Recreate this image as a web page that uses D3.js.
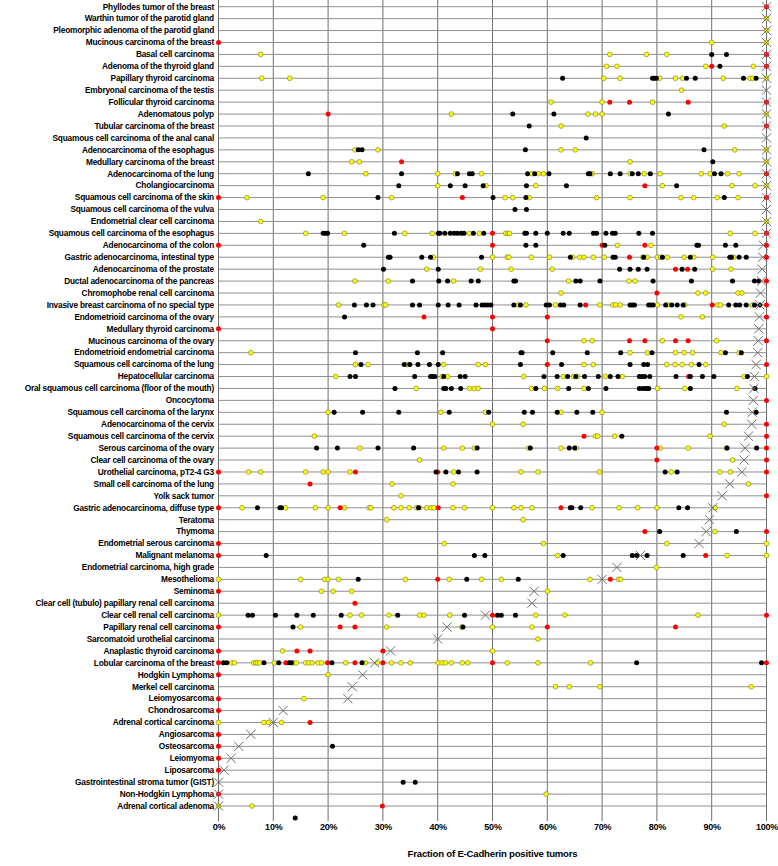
<!DOCTYPE html>
<html><head><meta charset="utf-8">
<script src="https://cdn.jsdelivr.net/npm/d3@7"></script>
<style>body{margin:0;background:#fff}svg{display:block}</style>
</head><body><svg id="c" width="778" height="866"></svg>
<script>
const categories = ["Phyllodes tumor of the breast","Warthin tumor of the parotid gland","Pleomorphic adenoma of the parotid gland","Mucinous carcinoma of the breast","Basal cell carcinoma","Adenoma of the thyroid gland","Papillary thyroid carcinoma","Embryonal carcinoma of the testis","Follicular thyroid carcinoma","Adenomatous polyp","Tubular carcinoma of the breast","Squamous cell carcinoma of the anal canal","Adenocarcinoma of the esophagus","Medullary carcinoma of the breast","Adenocarcinoma of the lung","Cholangiocarcinoma","Squamous cell carcinoma of the skin","Squamous cell carcinoma of the vulva","Endometrial clear cell carcinoma","Squamous cell carcinoma of the esophagus","Adenocarcinoma of the colon","Gastric adenocarcinoma, intestinal type","Adenocarcinoma of the prostate","Ductal adenocarcinoma of the pancreas","Chromophobe renal cell carcinoma","Invasive breast carcinoma of no special type","Endometrioid carcinoma of the ovary","Medullary thyroid carcinoma","Mucinous carcinoma of the ovary","Endometrioid endometrial carcinoma","Squamous cell carcinoma of the lung","Hepatocellular carcinoma","Oral squamous cell carcinoma (floor of the mouth)","Oncocytoma","Squamous cell carcinoma of the larynx","Adenocarcinoma of the cervix","Squamous cell carcinoma of the cervix","Serous carcinoma of the ovary","Clear cell carcinoma of the ovary","Urothelial carcinoma, pT2-4 G3","Small cell carcinoma of the lung","Yolk sack tumor","Gastric adenocarcinoma, diffuse type","Teratoma","Thymoma","Endometrial serous carcinoma","Malignant melanoma","Endometrial carcinoma, high grade","Mesothelioma","Seminoma","Clear cell (tubulo) papillary renal cell carcinoma","Clear cell renal cell carcinoma","Papillary renal cell carcinoma","Sarcomatoid urothelial carcinoma","Anaplastic thyroid carcinoma","Lobular carcinoma of the breast","Hodgkin Lymphoma","Merkel cell carcinoma","Leiomyosarcoma","Chondrosarcoma","Adrenal cortical carcinoma","Angiosarcoma","Osteosarcoma","Leiomyoma","Liposarcoma","Gastrointestinal stroma tumor (GIST)","Non-Hodgkin Lymphoma","Adrenal cortical adenoma",""];

const studyFraction = [100,100,100,100,100,100,100,100,100,100,100,100,100,100,100,100,100,100,100,100,
99.4,99.3,99.2,99.1,98.9,98.8,98.7,98.6,98.5,98.4,98.1,97.8,97.7,97.6,97.4,97.3,96.7,96.1,95.9,95.5,
93.3,91.9,90.2,89.6,89.0,87.7,77.0,72.7,70.0,57.6,57.2,48.7,41.7,40.0,31.4,28.5,26.3,24.4,23.6,11.8,
10.0,5.9,3.7,2.3,1.0,0,0,0,null];

const yellowDots = [
[],[100],[100],[90,100],[7.7,71.4,78.1,81.8],[70.8,72.7,88.9,97.6],
[7.9,13.0,70.3,73.3,80.5,83.4,84.7,92.1,97.0,97.5,100],[84.5],[60.7,70.0,79.2],[42.5,67.4,68.8,70.0,100],[62.5,92.3],[],
[24.9,29.1,62.5,65.1,94.2,100],[24.3,25.7,75.1,100],
[26.9,40.0,43.2,48.0,57.2,58.4,59.3,68.2,75.1,77.7,80.6,88.1,89.7,92.9,95.0],
[40.0,48.8,57.9,81.0,93.7,97.9,100],
[5.2,19.1,31.6,52.3,53.7,56.7,69.0,75.1,84.4,86.7,91.0,94.8],
[],[7.7,100],
[15.9,23.0,34.0,39.0,45.8,47.6,52.4,52.8,53.1,93.4,97.9],
[72.8,78.9],
[39.2,50.0,52.7,53.0,57.1,60.4,64.6,65.9,66.7,68.4,70.4,77.4,78.2,80.1,80.7,81.9,85.0,86.7,90.2,94.0],
[38.0,47.8,53.4,60.9,90.2,93.5],
[24.9,31.0,42.9,63.9,74.9,76.0],
[62.5,87.5,88.9,94.8,95.5],
[21.9,30.2,30.5,54.7,56.1,60.0,61.5,69.6,72.0,72.5,73.3,80.1,82.0,85.1,91.1,91.6,97.4],
[84.4,88.3],[],[66.7,68.2,81.0,90.9],
[5.9,75.1,78.3,83.4,85.0,86.5,91.7,95.0],
[25.0,27.3,34.4,41.1,47.4,48.7,66.7,68.4,81.8,83.3,84.6,86.3,88.9],
[21.4,40.8,41.8,55.7,62.9,64.8,65.5,70.6,73.7,95.9,100],
[36.1,45.8,46.7,47.4,57.1,59.5,61.9,66.7,80.1,85.1,94.6],
[],[20.0,40.6,48.7,62.5,70.0],[50.0,55.6,92.3],[17.5,68.8,69.2,72.3,89.7],
[25.8,41.1,44.5,46.7,56.6,62.5,65.3,80.6,85.7,92.7],
[36.7,93.8],
[5.5,7.7,15.9,19.1,20.0,24.0,42.9,55.2,58.3,69.5,82.6,91.5,93.4],
[31.7,42.8,96.7],[33.3],
[4.3,12.2,17.7,20.0,23.0,27.5,27.8,32.0,33.3,34.8,36.2,36.7,38.0,38.8,39.3,42.8,44.9,50.0,53.9,55.2,57.2,68.2,73.1,76.5,80.0,90.6],
[30.7,55.6],[90.6],[41.2,59.3,81.8,100],[61.9,92.8,100],[79.9],
[0,15.0,19.4,20.0,21.9,34.1,42.1,48.0,51.6,67.8,73.0,73.4],
[18.8,20.9,24.3,60.0],[],
[0,24.0,26.1,31.1,36.7,37.5,42.2,57.9,63.2,87.5],
[15.0,30.7,44.4,50.0,57.2],[58.3],[11.7,50.0],
[2.4,2.9,6.4,6.8,7.1,7.5,10.2,13.6,14.2,15.9,16.5,17.1,18.2,18.8,23.2,26.8,29.0,31.6,33.3,35.0,40.1,40.8,41.4,42.5,44.5,45.5,52.7,58.3,67.9],
[20.0],[61.5,64.0,69.6,97.2],[15.6],[],[0,8.3,9.1,11.5],[],[],[],[],[],[59.8],[0,6.1],[]
];

const redDots = [
[100],[],[],[0],[100],[90.0,100],[],[],[71.4,75.0,85.7,100],[20.0],[100],[],[],[33.4],[100],[77.8],[0,44.5,100],[],[],[50.0,100],
[0,50.0,70.0,77.8,100],[75.0,100],[83.4,85.6],[100],[80.0],[67.0,90.1,100],[37.5,50.0,60.0,100],[0,50.0],[60.0,75.0,77.8,83.4,85.7,100],[],
[60.0,100],[85.8],[],[100],[],[100],[66.7,100],[80.0,100],[80.0,100],[0,25.0,40.0,100],
[16.7],[100],[0,22.2,40.1,62.5],[],[77.8,100],[0],[0,88.9],[],[40.0,71.5],[0],
[24.9],[50.0,100],[0,22.2,24.9,60.0,83.4],[],[0,14.3,16.7,30.0],[0,12.3,19.9,24.9,30.0,50.0,100],[0],[],[0],[0],
[16.7],[0],[0],[0],[0],[],[0],[29.9],[]
];

const blackDots = [
[],[],[],[],[90.0,92.7],[91.5],[62.8,79.2,79.5,79.9,85.4,87.0,95.8,98.1],[],[],[53.7,61.2,82.1],[56.7],[67.1],
[25.5,26.2,56.0,88.6],[90.2],
[16.4,33.4,43.6,45.8,46.3,56.4,57.7,60.3,67.5,67.8,71.5,73.3,75.5,76.6,78.8,90.5,91.7],
[32.9,42.3,45.0,48.3,56.2,63.5,83.6],
[29.1,50.1,56.1,92.3],[54.1,56.2],[],
[19.1,19.5,19.9,32.1,40.1,40.4,41.3,42.3,43.0,43.6,44.3,44.8,46.5,48.4,55.9,56.2,57.9,60.0,62.9,64.0,68.4,69.0,70.7,71.9,72.4,76.7,79.2],
[26.5,56.1,57.9,70.5,87.3,87.6,92.5,94.4],
[31.0,31.3,37.1,38.7,48.0,64.2,72.0,72.4,77.6,81.0,86.1,93.3,93.6,95.0,96.3],
[30.1,40.1,73.2,75.1,76.6,78.2,84.6,86.9],
[35.4,40.2,41.8,46.1,47.4,53.9,54.2,65.2,66.0,69.6,79.3,86.3,93.8,97.8,98.6],
[],
[24.8,27.0,28.2,35.4,36.7,40.1,41.9,43.9,47.0,48.1,48.6,49.1,49.7,53.9,55.1,59.8,60.4,62.4,63.0,66.0,75.1,75.5,75.9,78.5,78.9,79.3,81.6,82.7,83.7,84.8,93.1,94.4,95.1,96.3,97.8,98.8],
[23.0],[],[],
[25.0,36.3,40.9,55.2,55.4,61.0,67.3,73.4,79.1,92.5,95.4],
[26.0,33.9,34.9,36.4,38.5,40.1,55.1,62.6,75.1,77.6,78.3,87.7],
[24.0,25.0,35.8,38.7,39.1,39.5,41.1,44.1,45.0,59.4,61.8,63.7,65.2,66.8,69.3,71.5,72.9,76.8,77.3,77.8,78.7,83.5,86.1,88.3,90.4,96.5],
[32.2,41.1,41.5,42.5,44.2,57.9,63.9,67.5,70.7,76.8,77.4,77.9,78.3,78.5,86.1,97.9],
[],
[21.1,26.3,32.9,42.1,49.3,55.8,57.3,61.8,65.4,68.3,92.7,98.1],
[],[73.6],
[17.9,21.7,29.1,35.6,47.2,56.9,64.0,65.0,92.8,98.2],
[],
[39.7,41.5,43.8,47.2,81.5,83.7],
[],[],
[7.1,11.2,11.5,36.5,64.2,64.5,66.1,84.0,85.6],
[],[80.5,94.5],[],
[8.7,46.7,48.6,62.9,75.5,76.3,78.2,84.8],
[],[25.5,45.3,54.7],[],[],
[5.4,6.2,10.4,14.3,17.3,22.4,32.7,44.9,50.9,51.6,54.2],
[13.6,44.6],[],[],
[0.9,1.5,8.3,11.0,12.9,13.3,20.7,26.2,76.3,99.1],
[],[],[],[],[],[],[20.8],[],[],[33.7,35.9],[],[],[14.0]
];

const tickValues = [0,10,20,30,40,50,60,70,80,90,100];
const axisTitle = "Fraction of E-Cadherin positive tumors";

const FONT = "'Liberation Sans','Arial',sans-serif";
const svg = d3.select("#c");
const x = d3.scaleLinear().domain([0,100]).range([218.5,766.5]);
const y = d3.scalePoint().domain(d3.range(categories.length)).range([6.7, 6.7 + 11.93*(categories.length-1)]);
const nRowsLined = categories.length - 1;

// vertical gridlines
svg.append("g").selectAll("line").data(tickValues).join("line")
  .attr("x1", d=>x(d)).attr("x2", d=>x(d)).attr("y1", 0).attr("y2", 821)
  .attr("stroke", "#6e6e6e").attr("stroke-width", 1);

// horizontal row lines
svg.append("g").selectAll("line").data(d3.range(nRowsLined)).join("line")
  .attr("x1", x(0)).attr("x2", x(100)).attr("y1", d=>y(d)).attr("y2", d=>y(d))
  .attr("stroke", "#8f8f8f").attr("stroke-width", 1);

// category labels
svg.append("g").selectAll("text").data(categories).join("text")
  .attr("x", 214).attr("y", (d,i)=>y(i)).attr("dy", "0.34em")
  .attr("text-anchor", "end")
  .style("font-family", FONT).style("letter-spacing", "-0.2px")
  .style("font-weight", "bold").style("font-size", "8.3px").attr("fill", "#000")
  .text(d=>d);

function flat(arr){ const out=[]; arr.forEach((vals,i)=>vals.forEach(v=>out.push({i,v}))); return out; }

const dots = svg.append("g");
dots.selectAll("circle.y").data(flat(yellowDots)).join("circle").attr("class","y")
  .attr("cx", d=>x(d.v)).attr("cy", d=>y(d.i)).attr("r", 2.4)
  .attr("fill", "#ffff00").attr("stroke", "#77772e").attr("stroke-width", 0.6);
dots.selectAll("circle.r").data(flat(redDots)).join("circle").attr("class","r")
  .attr("cx", d=>x(d.v)).attr("cy", d=>y(d.i)).attr("r", 2.5)
  .attr("fill", "#ff0000");
dots.selectAll("circle.b").data(flat(blackDots)).join("circle").attr("class","b")
  .attr("cx", d=>x(d.v)).attr("cy", d=>y(d.i)).attr("r", 2.5)
  .attr("fill", "#000");

// study fraction X markers
const xs = studyFraction.map((v,i)=>({i,v})).filter(d=>d.v!==null);
const s = 4.6;
svg.append("g").selectAll("path").data(xs).join("path")
  .attr("d", d=>{const cx=x(d.v), cy=y(d.i); return `M${cx-s},${cy-s}L${cx+s},${cy+s}M${cx-s},${cy+s}L${cx+s},${cy-s}`;})
  .attr("stroke", "#6f6f6f").attr("stroke-width", 1).attr("fill", "none");

// x axis labels
const ax = d3.axisBottom(x).tickValues(tickValues).tickFormat(d=>d+"%").tickSize(0).tickPadding(0);
const g = svg.append("g").attr("transform", "translate(0,824)").call(ax);
g.select(".domain").remove();
g.selectAll("text").style("font-family", FONT).style("letter-spacing","-0.2px")
  .style("font-weight","bold").style("font-size","9px").attr("fill","#000");

svg.append("text").attr("x", x(50)).attr("y", 857).attr("text-anchor","middle")
  .style("font-family", FONT).style("letter-spacing","-0.2px")
  .style("font-weight","bold").style("font-size","9.6px").text(axisTitle);
</script></body></html>
